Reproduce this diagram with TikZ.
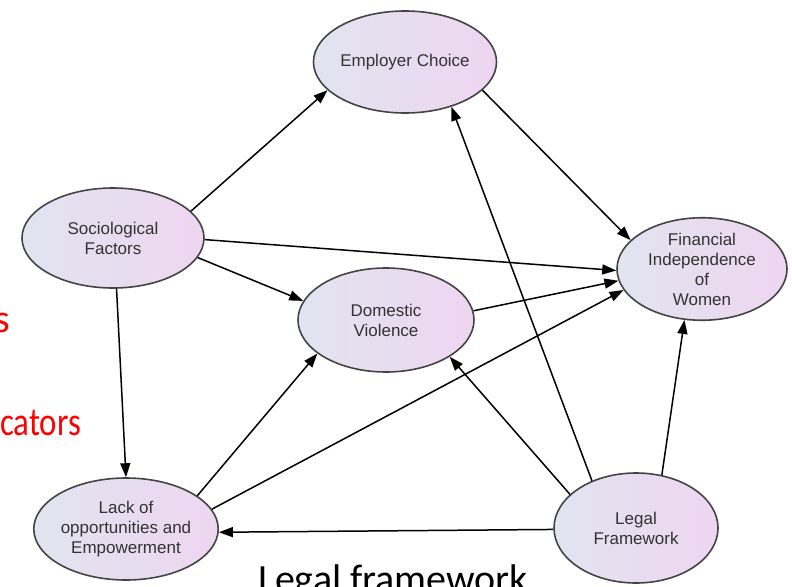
\documentclass[tikz,border=0pt]{standalone}
\usepackage{fontspec}
\setmainfont{Carlito}
\newfontfamily\nodefont{Liberation Sans}
\usetikzlibrary{arrows.meta,shapes.geometric}
\definecolor{ringcol}{HTML}{444444}
\definecolor{leftfill}{HTML}{E2E4F0}
\definecolor{rightfill}{HTML}{EED6F0}
\definecolor{txtcol}{HTML}{333333}
\definecolor{slidered}{HTML}{FF0000}
\tikzset{
  bubble/.style={ellipse, draw=ringcol, line width=1.6pt, inner sep=0pt,
    left color=leftfill, right color=rightfill, align=center,
    font=\nodefont\fontsize{17}{20}\selectfont, text=txtcol},
  link/.style={line width=1.5pt, draw=black, -{Triangle[length=14pt,width=10pt]}},
  redtext/.style={inner sep=0pt, text=slidered, font=\fontsize{40}{48}\selectfont},
  blacktext/.style={inner sep=0pt, text=black, font=\fontsize{40}{48}\selectfont}
}
\begin{document}
\begin{tikzpicture}[x=1pt,y=-1pt]
\useasboundingbox (0,0) rectangle (792,586);
\fill[white] (0,0) rectangle (792,586);
\clip (0,0) rectangle (792,586);

\node[redtext, anchor=base east] (rs) at (10,332) {s};
\node[redtext, anchor=base west] (rc) at (0,435) {\scalebox{0.82}[1]{cators}};
\node[blacktext, anchor=base west] (lf) at (258,592) {Legal framework};

\node[bubble, minimum width=176pt, minimum height=102pt] (emp) at (405,62) {Employer Choice};
\node[bubble, minimum width=182pt, minimum height=100pt] (soc) at (113,238) {Sociological\\Factors};
\node[bubble, minimum width=170pt, minimum height=102pt] (fin) at (702,269) {Financial\\Independence\\of\\Women};
\node[bubble, minimum width=176pt, minimum height=104pt] (dom) at (386,320) {Domestic\\Violence};
\node[bubble, minimum width=168pt, minimum height=102pt] (lack) at (126,529) {Lack of\\opportunities and\\Empowerment};
\node[bubble, minimum width=164pt, minimum height=110pt] (leg) at (636,528) {Legal\\Framework};

\draw[link] (soc.19) -- (emp.-160);
\draw[link] (soc.-1) -- (fin.181);
\draw[link] (soc.-13) -- (dom.167);
\draw[link] (soc.-86) -- (lack.90);
\draw[link] (emp.-20) -- (fin.158);
\draw[link] (dom.6) -- (fin.-172);
\draw[link] (lack.25) -- (dom.-154);
\draw[link] (lack.13) -- (fin.-165);
\draw[link] (leg.181) -- (lack.-2);
\draw[link] (leg.153) -- (dom.-30);
\draw[link] (leg.133) -- (emp.-44);
\draw[link] (leg.64) -- (fin.-109);
\end{tikzpicture}
\end{document}
